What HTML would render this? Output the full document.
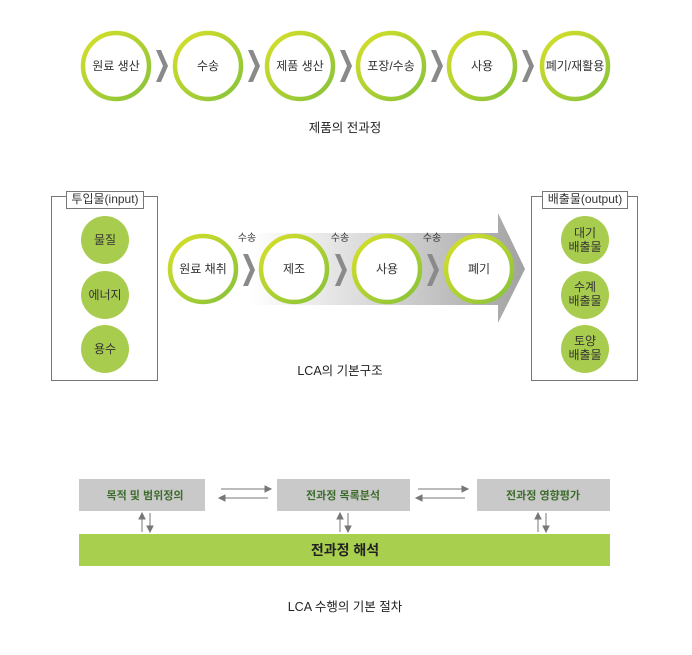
<!DOCTYPE html>
<html><head><meta charset="utf-8"><style>
html,body{margin:0;padding:0;background:#fff;}
svg text{font-family:"Liberation Sans","Noto Sans CJK KR",sans-serif;}
</style></head><body>
<svg width="692" height="650" viewBox="0 0 692 650" xmlns="http://www.w3.org/2000/svg">
<defs>
<linearGradient id="ring" x1="0" y1="0" x2="1" y2="1">
<stop offset="0" stop-color="#d8e02a"/><stop offset="1" stop-color="#86c23a"/>
</linearGradient>
<linearGradient id="big" x1="0" y1="0" x2="1" y2="0">
<stop offset="0" stop-color="#ffffff"/><stop offset="0.5" stop-color="#d4d4d4"/><stop offset="1" stop-color="#a2a2a2"/>
</linearGradient>
<g id="chev"><polygon points="0,0 5,0 12,16 5,32 0,32 7,16" fill="#8a8a8a"/></g>
</defs>
<g fill="#fff" stroke="url(#ring)" stroke-width="4.5">
<circle cx="116" cy="66" r="33"/><circle cx="208" cy="66" r="33"/><circle cx="300" cy="66" r="33"/>
<circle cx="391" cy="66" r="33"/><circle cx="482" cy="66" r="33"/><circle cx="575" cy="66" r="33"/>
</g>
<use href="#chev" x="156" y="50"/><use href="#chev" x="248" y="50"/><use href="#chev" x="340" y="50"/>
<use href="#chev" x="431" y="50"/><use href="#chev" x="522" y="50"/>
<g font-size="12" fill="#333" text-anchor="middle">
<text x="116" y="70">원료 생산</text><text x="208" y="70">수송</text><text x="300" y="70">제품 생산</text>
<text x="391" y="70">포장/수송</text><text x="482" y="70">사용</text><text x="575" y="70">폐기/재활용</text>
<text x="345" y="132" font-size="12.5" fill="#222">제품의 전과정</text>
</g>
<rect x="51.5" y="196.5" width="106" height="184" fill="none" stroke="#777"/>
<rect x="66.5" y="191.5" width="77" height="17" fill="#fff" stroke="#777"/>
<rect x="531.5" y="196.5" width="106" height="184" fill="none" stroke="#777"/>
<rect x="542.5" y="191.5" width="85" height="17" fill="#fff" stroke="#777"/>
<g fill="#a8cc4e"><circle cx="105" cy="240" r="24"/><circle cx="105" cy="295" r="24"/><circle cx="105" cy="349" r="24"/>
<circle cx="585" cy="240" r="24"/><circle cx="585" cy="295" r="24"/><circle cx="585" cy="349" r="24"/></g>
<polygon points="250,233 498,233 498,213 525,269 498,323 498,305 250,305" fill="url(#big)"/>
<g fill="#fff" stroke="url(#ring)" stroke-width="4.5">
<circle cx="203" cy="269" r="33"/><circle cx="294" cy="269" r="33"/><circle cx="387" cy="269" r="33"/><circle cx="479" cy="269" r="33"/>
</g>
<use href="#chev" x="243" y="254" transform="translate(0,0)"/><use href="#chev" x="335" y="254"/><use href="#chev" x="427" y="254"/>
<g font-size="12" fill="#333" text-anchor="middle">
<text x="105" y="203">투입물(input)</text><text x="585" y="203">배출물(output)</text>
<text x="105" y="244">물질</text><text x="105" y="299">에너지</text><text x="105" y="353">용수</text>
<text x="585" y="237">대기</text><text x="585" y="251">배출물</text>
<text x="585" y="291">수계</text><text x="585" y="305">배출물</text>
<text x="585" y="345">토양</text><text x="585" y="359">배출물</text>
<text x="203" y="273">원료 채취</text><text x="294" y="273">제조</text><text x="387" y="273">사용</text><text x="479" y="273">폐기</text>
<text x="247" y="241" font-size="10">수송</text><text x="340" y="241" font-size="10">수송</text><text x="432" y="241" font-size="10">수송</text>
<text x="340" y="375" font-size="12.5" fill="#222">LCA의 기본구조</text>
</g>
<g fill="#c9c9c9"><rect x="79" y="479" width="126" height="32"/><rect x="277" y="479" width="133" height="32"/><rect x="477" y="479" width="133" height="32"/></g>
<rect x="79" y="534" width="531" height="32" fill="#a9cf4e"/>
<g font-size="11" font-weight="bold" fill="#3d6b2c" text-anchor="middle">
<text x="145" y="499">목적 및 범위정의</text><text x="343" y="499">전과정 목록분석</text><text x="543" y="499">전과정 영향평가</text>
</g>
<text x="345" y="555" font-size="14" font-weight="bold" fill="#222" text-anchor="middle">전과정 해석</text>
<g stroke="#777" stroke-width="1" fill="#777">
<line x1="221" y1="489" x2="268" y2="489"/><polygon points="271,489 265,486 265,492"/>
<line x1="222" y1="498" x2="268" y2="498"/><polygon points="219,498 225,495 225,501"/>
<line x1="418" y1="489" x2="465" y2="489"/><polygon points="468,489 462,486 462,492"/>
<line x1="419" y1="498" x2="465" y2="498"/><polygon points="416,498 422,495 422,501"/>
<line x1="142" y1="516" x2="142" y2="532"/><polygon points="142,513 139,519 145,519"/>
<line x1="150" y1="513" x2="150" y2="529"/><polygon points="150,532 147,526 153,526"/>
<line x1="340" y1="516" x2="340" y2="532"/><polygon points="340,513 337,519 343,519"/>
<line x1="348" y1="513" x2="348" y2="529"/><polygon points="348,532 345,526 351,526"/>
<line x1="538" y1="516" x2="538" y2="532"/><polygon points="538,513 535,519 541,519"/>
<line x1="546" y1="513" x2="546" y2="529"/><polygon points="546,532 543,526 549,526"/>
</g>
<text x="345" y="611" font-size="12.5" fill="#222" text-anchor="middle">LCA 수행의 기본 절차</text>
</svg>
</body></html>
